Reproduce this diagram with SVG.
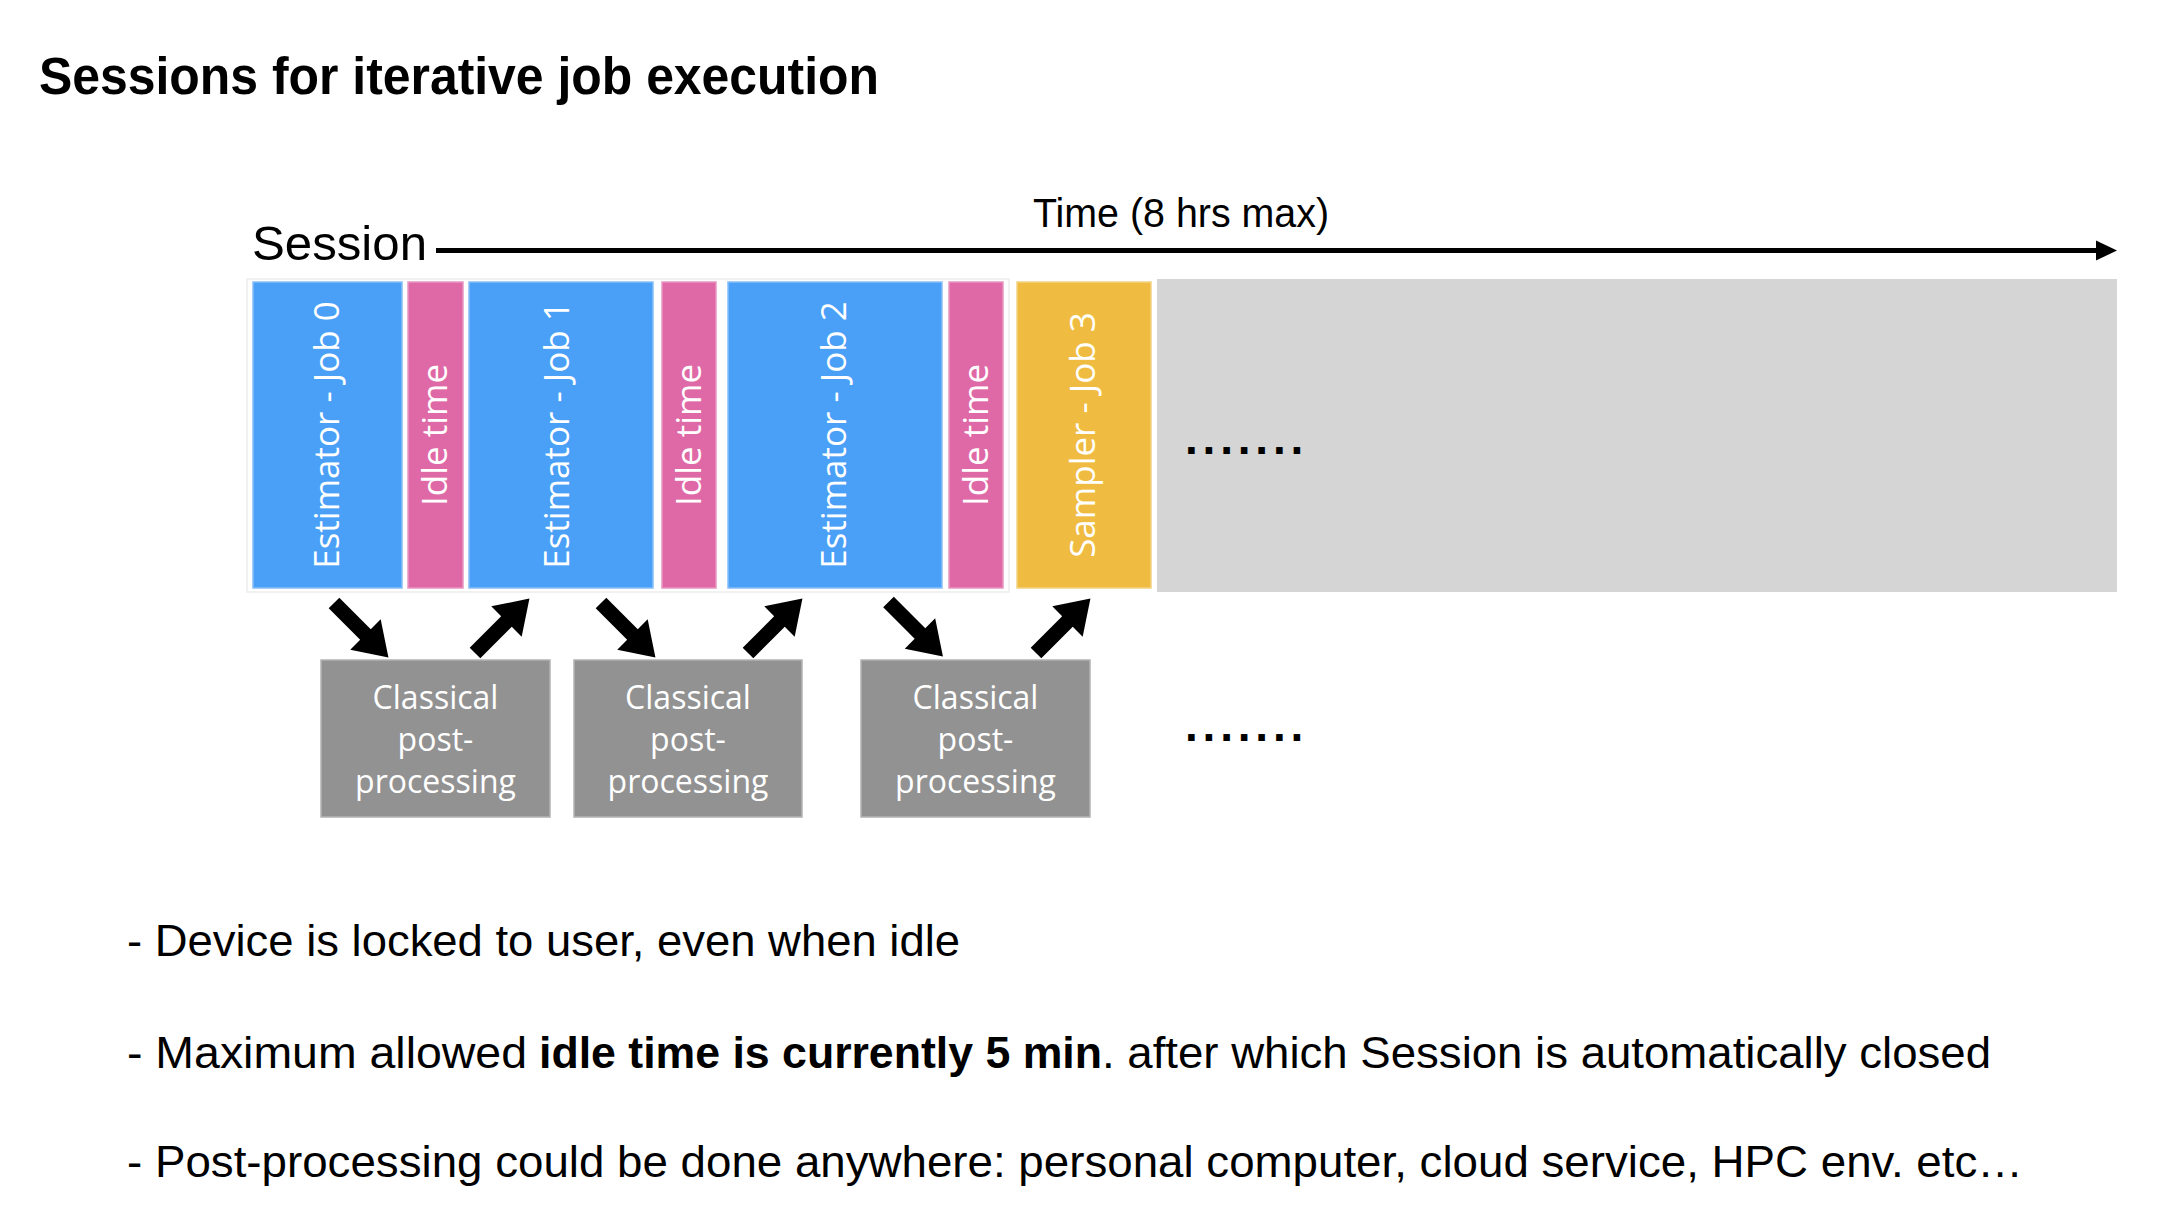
<svg xmlns="http://www.w3.org/2000/svg" xmlns:xlink="http://www.w3.org/1999/xlink" width="2168" height="1222" viewBox="0 0 2168 1222">
<style>
.hd{font-family:"Liberation Sans",Arial,Helvetica,sans-serif;fill:#000}
.lbl{font-family:"Open Sans","Noto Sans",sans-serif;fill:#fff;font-size:35px;text-anchor:middle}
.cls{font-family:"Open Sans","Noto Sans",sans-serif;fill:#fff;font-size:32px;text-anchor:middle}
.est{fill:#4A9FF7;stroke:#86BFF8;stroke-width:1.5}
.idle{fill:#DE69A6;stroke:#E996C2;stroke-width:1.5}
.smp{fill:#EFBC41;stroke:#F4D283;stroke-width:1.5}
.post{fill:#929292;stroke:#B3B3B3;stroke-width:1.5}
.dots{font-family:"Liberation Sans",Arial,sans-serif;font-size:46px;font-weight:bold;letter-spacing:4.8px;fill:#000}
</style>
<defs>
<polygon id="blk" points="0,-7.5 44.5,-7.5 44.5,-21.5 77,0 44.5,21.5 44.5,7.5 0,7.5" fill="#000"/>
</defs>
<rect width="2168" height="1222" fill="#fff"/>

<text class="hd" x="39" y="94" font-size="51" font-weight="bold" textLength="840" lengthAdjust="spacingAndGlyphs">Sessions for iterative job execution</text>

<g id="session-label"><text class="hd" x="252" y="260" font-size="49" textLength="175" lengthAdjust="spacingAndGlyphs">Session</text></g>
<g id="time-label"><text class="hd" x="1033" y="227" font-size="40" textLength="296" lengthAdjust="spacingAndGlyphs">Time (8 hrs max)</text></g>

<rect x="247" y="279" width="762" height="313" fill="none" stroke="#EDEDED" stroke-width="1.5"/>

<g id="job0"><rect class="est" x="253" y="282" width="149" height="306"/><text class="lbl" transform="translate(339,435) rotate(-90)">Estimator - Job 0</text></g>
<g id="idle0"><rect class="idle" x="408" y="282" width="55" height="306"/><text class="lbl" transform="translate(447,435) rotate(-90)">Idle time</text></g>
<g id="job1"><rect class="est" x="469" y="282" width="184" height="306"/><text class="lbl" transform="translate(569,435) rotate(-90)">Estimator - Job 1</text></g>
<g id="idle1"><rect class="idle" x="662" y="282" width="54" height="306"/><text class="lbl" transform="translate(701,435) rotate(-90)">Idle time</text></g>
<g id="job2"><rect class="est" x="728" y="282" width="214" height="306"/><text class="lbl" transform="translate(846,435) rotate(-90)">Estimator - Job 2</text></g>
<g id="idle2"><rect class="idle" x="949" y="282" width="54" height="306"/><text class="lbl" transform="translate(988,435) rotate(-90)">Idle time</text></g>
<g id="job3"><rect class="smp" x="1017" y="282" width="134" height="306"/><text class="lbl" transform="translate(1095,435) rotate(-90)">Sampler - Job 3</text></g>
<g id="future"><rect x="1157" y="279" width="960" height="313" fill="#D5D5D5"/><text class="dots" x="1185" y="454">.......</text></g>

<g id="post0"><rect class="post" x="321" y="660" width="229" height="157"/><text class="cls" x="435.5" y="709">Classical</text><text class="cls" x="435.5" y="751">post-</text><text class="cls" x="435.5" y="793">processing</text></g>
<g id="post1"><rect class="post" x="574" y="660" width="228" height="157"/><text class="cls" x="688" y="709">Classical</text><text class="cls" x="688" y="751">post-</text><text class="cls" x="688" y="793">processing</text></g>
<g id="post2"><rect class="post" x="861" y="660" width="229" height="157"/><text class="cls" x="975.5" y="709">Classical</text><text class="cls" x="975.5" y="751">post-</text><text class="cls" x="975.5" y="793">processing</text></g>
<g id="post-more"><text class="dots" x="1185" y="741">.......</text></g>

<g id="connectors">
<line x1="436" y1="250.5" x2="2098" y2="250.5" stroke="#000" stroke-width="5"/>
<polygon points="2096,240.5 2117,250.5 2096,260.5" fill="#000"/>
<use xlink:href="#blk" href="#blk" transform="translate(334,603) rotate(45)"/>
<use xlink:href="#blk" href="#blk" transform="translate(475,653) rotate(-45)"/>
<use xlink:href="#blk" href="#blk" transform="translate(601,603) rotate(45)"/>
<use xlink:href="#blk" href="#blk" transform="translate(748,653) rotate(-45)"/>
<use xlink:href="#blk" href="#blk" transform="translate(888.5,602) rotate(45)"/>
<use xlink:href="#blk" href="#blk" transform="translate(1036,653) rotate(-45)"/>
</g>

<g id="notes">
<text class="hd" x="127" y="956" font-size="44" textLength="833" lengthAdjust="spacingAndGlyphs">- Device is locked to user, even when idle</text>
<text class="hd" font-size="44"><tspan x="127" y="1068" textLength="400" lengthAdjust="spacingAndGlyphs">- Maximum allowed</tspan><tspan x="539" y="1068" font-weight="bold" textLength="563" lengthAdjust="spacingAndGlyphs">idle time is currently 5 min</tspan><tspan x="1102" y="1068" textLength="889" lengthAdjust="spacingAndGlyphs">. after which Session is automatically closed</tspan></text>
<text class="hd" x="127" y="1177" font-size="44" textLength="1896" lengthAdjust="spacingAndGlyphs">- Post-processing could be done anywhere: personal computer, cloud service, HPC env. etc…</text>
</g>
</svg>
